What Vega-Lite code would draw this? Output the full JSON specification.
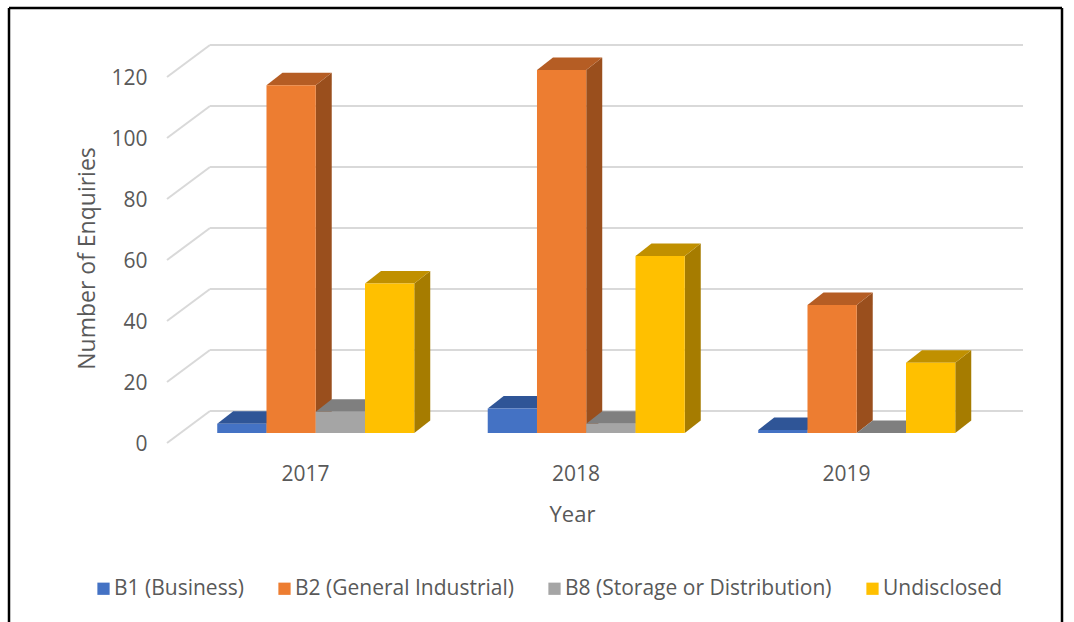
{
"$schema":"https://vega.github.io/schema/vega-lite/v6.json",
"autosize":{"type":"none"},
"width":1053,"height":614,
"padding":{"left":9,"top":8,"right":12,"bottom":0},
"background":"white",
"config":{"view":{"stroke":null},"font":"Open Sans"},
"datasets":{
"bars":[
{"year":2017,"series":"B1 (Business)","value":3},
{"year":2017,"series":"B2 (General Industrial)","value":114},
{"year":2017,"series":"B8 (Storage or Distribution)","value":7},
{"year":2017,"series":"Undisclosed","value":49},
{"year":2018,"series":"B1 (Business)","value":8},
{"year":2018,"series":"B2 (General Industrial)","value":119},
{"year":2018,"series":"B8 (Storage or Distribution)","value":3},
{"year":2018,"series":"Undisclosed","value":58},
{"year":2019,"series":"B1 (Business)","value":1},
{"year":2019,"series":"B2 (General Industrial)","value":42},
{"year":2019,"series":"B8 (Storage or Distribution)","value":0},
{"year":2019,"series":"Undisclosed","value":23}
],
"ticks":[{"tick":0},{"tick":20},{"tick":40},{"tick":60},{"tick":80},{"tick":100},{"tick":120}]
},
"layer":[
{"data":{"name":"ticks"},
 "transform":[{"calculate":"datum.tick+10.49","as":"back"}],
 "mark":{"type":"rule","color":"#d9d9d9","strokeWidth":2},
 "encoding":{
  "x":{"datum":2016.4898,"type":"quantitative","scale":{"domain":[2015.9057,2019.7985],"nice":false,"zero":false},
   "axis":{"values":[2017,2018,2019],"format":"d","domain":false,"ticks":false,"grid":false,"offset":-162,"labelPadding":3,"labelFontSize":21,"labelColor":"#595959","title":"Year","titleFontSize":22,"titleFontWeight":"normal","titleColor":"#595959","titleX":563,"titleY":54,"titleAlign":"center","titleBaseline":"middle"}},
  "x2":{"datum":2016.6488},
  "y":{"field":"tick","type":"quantitative","scale":{"domain":[-58.69,142.62],"nice":false,"zero":false},
   "axis":{"values":[0,20,40,60,80,100,120],"domain":false,"ticks":false,"grid":false,"offset":-142,"labelPadding":4,"labelOffset":2,"labelFontSize":21,"labelColor":"#595959","title":"Number of Enquiries","titleFontSize":23,"titleFontWeight":"normal","titleColor":"#595959","titleX":-64,"titleY":250,"titleAlign":"center","titleBaseline":"middle","titleAngle":-90}},
  "y2":{"field":"back"}
 }},
{"data":{"name":"ticks"},
 "transform":[{"calculate":"datum.tick+10.49","as":"back"}],
 "mark":{"type":"rule","color":"#d9d9d9","strokeWidth":2},
 "encoding":{
  "x":{"datum":2016.6488,"type":"quantitative"},
  "x2":{"datum":2019.6543},
  "y":{"field":"back","type":"quantitative"}
 }},
{"data":{"name":"bars"},
 "transform":[
  {"calculate":"indexof(['B1 (Business)','B2 (General Industrial)','B8 (Storage or Distribution)','Undisclosed'],datum.series)","as":"si"},
  {"calculate":"datum.year-0.3245+datum.si*0.1821+0.1821","as":"xr"},
  {"calculate":"[0,1]","as":"t"},{"flatten":["t"]},
  {"calculate":"datum.xr+datum.t*0.0591","as":"px"},
  {"calculate":"datum.value+3.28+datum.t*4.1","as":"ptop"},
  {"calculate":"3.28+datum.t*4.1","as":"pbase"},
  {"calculate":"datum.year+datum.series","as":"key"}
 ],
 "mark":{"type":"area","interpolate":"linear"},
 "encoding":{
  "x":{"field":"px","type":"quantitative"},
  "y":{"field":"ptop","type":"quantitative"},
  "y2":{"field":"pbase"},
  "detail":{"field":"key"},
  "color":{"field":"series","type":"nominal","legend":null,"scale":{"domain":["B1 (Business)","B2 (General Industrial)","B8 (Storage or Distribution)","Undisclosed"],"range":["#2b4e8a","#9a4f1d","#6b6b6b","#a67c00"]}}
 }},
{"data":{"name":"bars"},
 "transform":[
  {"calculate":"indexof(['B1 (Business)','B2 (General Industrial)','B8 (Storage or Distribution)','Undisclosed'],datum.series)","as":"si"},
  {"calculate":"datum.year-0.3245+datum.si*0.1821","as":"xl"},
  {"calculate":"[0,1]","as":"t"},{"flatten":["t"]},
  {"calculate":"datum.xl+datum.t*0.0591","as":"pl"},
  {"calculate":"datum.xl+0.1821+datum.t*0.0591","as":"pr"},
  {"calculate":"datum.value+3.28+datum.t*4.1","as":"ptop"},
  {"calculate":"datum.year+datum.series","as":"key"}
 ],
 "mark":{"type":"area","orient":"horizontal","interpolate":"linear"},
 "encoding":{
  "y":{"field":"ptop","type":"quantitative"},
  "x":{"field":"pl","type":"quantitative"},
  "x2":{"field":"pr"},
  "detail":{"field":"key"},
  "color":{"field":"series","type":"nominal","legend":null,"scale":{"domain":["B1 (Business)","B2 (General Industrial)","B8 (Storage or Distribution)","Undisclosed"],"range":["#2f5597","#b55d24","#7f7f7f","#c09000"]}}
 }},
{"data":{"name":"bars"},
 "transform":[
  {"calculate":"indexof(['B1 (Business)','B2 (General Industrial)','B8 (Storage or Distribution)','Undisclosed'],datum.series)","as":"si"},
  {"calculate":"datum.year-0.3245+datum.si*0.1821","as":"xl"},
  {"calculate":"datum.xl+0.1821","as":"xr"},
  {"calculate":"datum.value+3.28","as":"ptop"},
  {"calculate":"3.28","as":"pbase"}
 ],
 "mark":{"type":"rect"},
 "encoding":{
  "x":{"field":"xl","type":"quantitative"},
  "x2":{"field":"xr"},
  "y":{"field":"ptop","type":"quantitative"},
  "y2":{"field":"pbase"},
  "color":{"field":"series","type":"nominal","sort":null,"scale":{"domain":["B1 (Business)","B2 (General Industrial)","B8 (Storage or Distribution)","Undisclosed"],"range":["#4472c4","#ed7d31","#a5a5a5","#ffc000"]},
   "legend":{"orient":"none","legendX":84,"legendY":570,"direction":"horizontal","columns":4,"title":null,"symbolType":"square","symbolSize":150,"symbolStrokeWidth":0,"labelFontSize":21,"labelColor":"#595959","labelOffset":0,"columnPadding":30,"labelLimit":400,"symbolOpacity":1}}
 }},
{"data":{"values":[{}]},"mark":{"type":"rule","color":"black","strokeWidth":2.5},"encoding":{"x":{"datum":2015.9057,"type":"quantitative"}}},
{"data":{"values":[{}]},"mark":{"type":"rule","color":"black","strokeWidth":2.5},"encoding":{"x":{"datum":2019.7985,"type":"quantitative"}}},
{"data":{"values":[{}]},"mark":{"type":"rule","color":"black","strokeWidth":2.5},"encoding":{"y":{"datum":142.62,"type":"quantitative"}}}
],
"resolve":{"scale":{"color":"independent"}}
}
